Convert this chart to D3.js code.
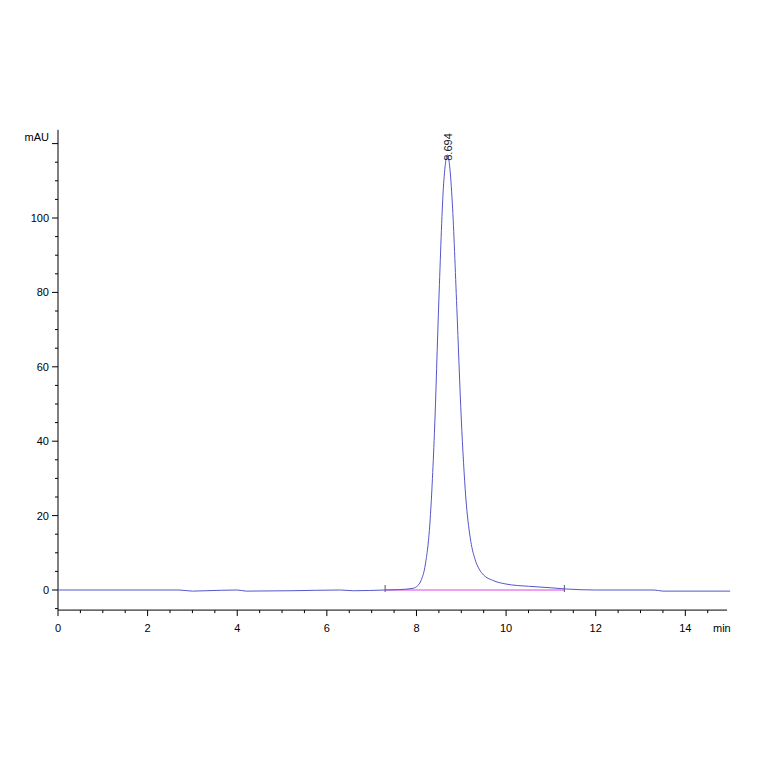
<!DOCTYPE html><html><head><meta charset="utf-8">
<script src="https://cdn.jsdelivr.net/npm/d3@7"></script>
<style>body{margin:0;background:#fff}</style></head><body>
<svg id="c" width="764" height="764"></svg>
<script>
const xTicks=[0,2,4,6,8,10,12,14];
const yTicks=[0,20,40,60,80,100];
const times=[0,2.7,3.0,3.3,4.0,4.2,5.2,6.3,6.6,7.3,7.6,7.9,8.0,8.1,8.2,8.3,8.4,8.5,8.6,8.65,8.694,8.74,8.8,8.9,9.0,9.1,9.2,9.3,9.4,9.5,9.7,10.0,10.5,11.0,11.3,12,13.3,13.5,15];
const signal=[0,0,-0.3,-0.2,0,-0.3,-0.2,0,-0.2,0,0.1,0.4,0.9,2.5,7,18,42,78,108,115,117,114,104,76,46,25,14,8.5,5.6,4,2.6,1.6,1.0,0.6,0.3,0,0,-0.3,-0.3];
const peakLabel="8.694", peakTime=8.694, peakTop=117;
const baseStart=7.3, baseEnd=11.3;
const svg=d3.select("#c");
const x=d3.scaleLinear().domain([0,14.93]).range([58,727]);
const y=d3.scaleLinear().domain([0,100]).range([590,218]);
const yMin=-5.4,yMax=123.7;
const f="Liberation Sans, Arial, sans-serif";
// axes
svg.append("line").attr("x1",58).attr("x2",58).attr("y1",y(yMax)).attr("y2",y(yMin)).attr("stroke","#000");
svg.append("line").attr("x1",58).attr("x2",727).attr("y1",y(yMin)).attr("y2",y(yMin)).attr("stroke","#000");
d3.range(-5,124,5).forEach(v=>{const major=v%20===0;svg.append("line").attr("x1",major?52:55).attr("x2",58).attr("y1",y(v)).attr("y2",y(v)).attr("stroke","#000");});
yTicks.forEach(v=>svg.append("text").attr("x",49).attr("y",y(v)+4).attr("text-anchor","end").attr("font-family",f).attr("font-size",11).text(v));
svg.append("text").attr("x",49).attr("y",y(yMax)+11).attr("text-anchor","end").attr("font-family",f).attr("font-size",11).text("mAU");
d3.range(0,14.95,0.5).forEach(v=>{const major=v%2===0;svg.append("line").attr("x1",x(v)).attr("x2",x(v)).attr("y1",y(yMin)).attr("y2",y(yMin)+(major?6:3)).attr("stroke","#000");});
xTicks.forEach(v=>svg.append("text").attr("x",x(v)).attr("y",y(yMin)+22).attr("text-anchor","middle").attr("font-family",f).attr("font-size",11).text(v));
svg.append("text").attr("x",713).attr("y",y(yMin)+22).attr("font-family",f).attr("font-size",11).text("min");
// baseline
svg.append("line").attr("x1",x(baseStart)).attr("x2",x(baseEnd)).attr("y1",y(0)).attr("y2",y(0)).attr("stroke","#e040e0");
[baseStart,baseEnd].forEach(t=>svg.append("line").attr("x1",x(t)).attr("x2",x(t)).attr("y1",y(0)-5).attr("y2",y(0)+2).attr("stroke","#555"));
// signal
const pts=times.map((t,i)=>[t,signal[i]]);
svg.append("path").attr("d",d3.line().x(d=>x(d[0])).y(d=>y(d[1])).curve(d3.curveMonotoneX)(pts)).attr("fill","none").attr("stroke","#5555cc").attr("stroke-width",1);
svg.append("text").attr("transform",`translate(${x(peakTime)+4},${y(peakTop)+6}) rotate(-90)`).attr("font-family",f).attr("font-size",11).attr("fill","#223").text(peakLabel);
</script></body></html>
